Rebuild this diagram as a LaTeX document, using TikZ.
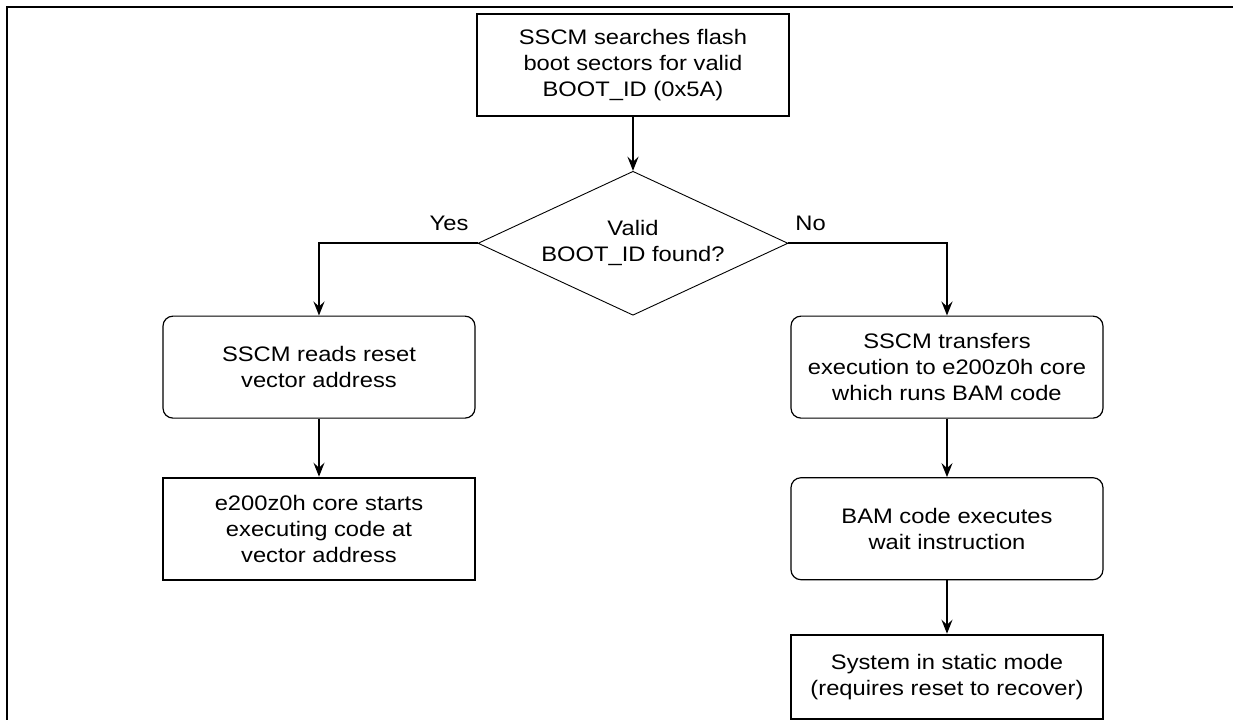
\documentclass[tikz,border=0pt]{standalone}
\usepackage{fontspec}
\setmainfont{Liberation Sans}[FakeStretch=1.13]
\usetikzlibrary{shapes.geometric,arrows.meta,calc}

\begin{document}
\begin{tikzpicture}[font=\fontsize{10.5pt}{13pt}\selectfont]
	% `plainbox' is used for the square-cornered steps.
	% `roundbox' is used for the rounded steps.
	\tikzstyle{plainbox} = [draw,line width=1pt,minimum width=156pt,align=center,inner sep=0pt]
	\tikzstyle{roundbox} = [draw,line width=0.6pt,rounded corners=5pt,minimum width=156pt,minimum height=51pt,align=center,inner sep=0pt]
	\tikzstyle{decision} = [draw,line width=0.45pt,shape=diamond,aspect=2.15,minimum width=155pt,minimum height=72pt,inner sep=0pt,align=center]
	\tikzstyle{flow} = [line width=0.95pt,-{Stealth[length=7pt,width=5.5pt,inset=2.5pt]}]
	\tikzstyle{frame} = [line width=1pt]
	%
	\matrix[row sep=0pt, column sep=0pt] (chart) {
	% First row.
		& \node[plainbox,minimum height=51pt] (search) {SSCM searches flash\\boot sectors for valid\\BOOT\_ID (0x5A)}; &
		\\[27pt]
	% Second row.
		& \node[decision] (check) {Valid\\BOOT\_ID found?}; &
		\\
	% Third row.
		\node[roundbox] (readvec) {SSCM reads reset\\vector address}; & &
		\node[roundbox] (transfer) {SSCM transfers\\execution to e200z0h core\\which runs BAM code};
		\\[29pt]
	% Fourth row.
		\node[plainbox,minimum height=51pt] (startexec) {e200z0h core starts\\executing code at\\vector address}; & &
		\node[roundbox] (waitinstr) {BAM code executes\\wait instruction};
		\\[26.5pt]
	% Last row.
		& &
		\node[plainbox,minimum height=42pt] (static) {System in static mode\\(requires reset to recover)};
		\\
		};
	% Page edges and the frame round the chart.
	\coordinate (corner1) at ([xshift=-238pt,yshift=6.5pt]search.north west);
	\coordinate (corner2) at ([xshift=378.5pt,yshift=-353.5pt]search.north west);
	\useasboundingbox (corner1) rectangle (corner2);
	\coordinate (frameTL) at ([xshift=3.5pt,yshift=-3.5pt]corner1);
	\draw[frame] (frameTL |- corner2) -- (frameTL) -- (frameTL -| corner2);
	% Draw connectors.
	\draw[flow] (search) -- (check);
	\draw[flow] (check.west) -| node[pos=0.09, above, yshift=2.5pt] {Yes} (readvec.north);
	\draw[flow] (check.east) -| node[pos=0.07, above, yshift=2.5pt] {No} (transfer.north);
	\draw[flow] (readvec) -- (startexec);
	\draw[flow] (transfer) -- (waitinstr);
	\draw[flow] (waitinstr) -- (static);
%
\end{tikzpicture}
\end{document}
